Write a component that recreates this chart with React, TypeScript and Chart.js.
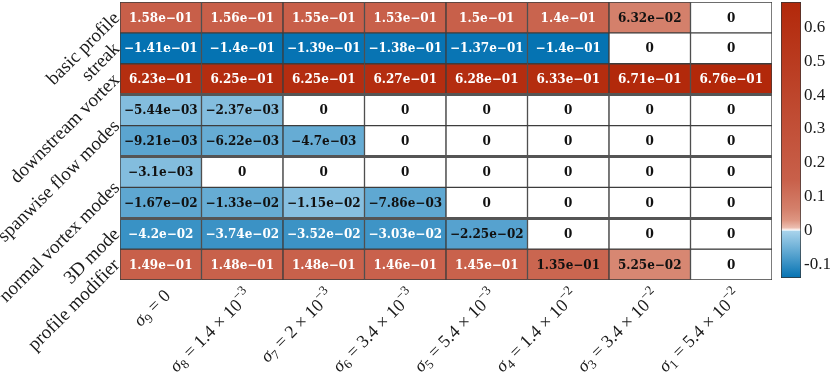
import React, { useEffect, useRef } from 'react';
import { Chart, registerables } from 'chart.js';

Chart.register(...registerables);

// ---------- data ----------
const rowLabels = ['basic profile', 'streak', 'downstream vortex', 'spanwise flow modes', 'normal vortex modes', '3D mode', 'profile modifier'];
const rowLabelPos = [0.5, 1.5, 2.5, 4, 6, 7.5, 8.5];
const groupBreaks = [3, 5, 7];

const colSub = ['9', '8', '7', '6', '5', '4', '3', '1'];
const colMant = ['0', '1.4', '2', '3.4', '5.4', '1.4', '3.4', '5.4'];
const colExp = ['', '−3', '−3', '−3', '−3', '−2', '−2', '−2'];

const values: number[][] = [
  [0.158, 0.156, 0.155, 0.153, 0.15, 0.14, 0.0632, 0],
  [-0.141, -0.14, -0.139, -0.138, -0.137, -0.14, 0, 0],
  [0.623, 0.625, 0.625, 0.627, 0.628, 0.633, 0.671, 0.676],
  [-0.00544, -0.00237, 0, 0, 0, 0, 0, 0],
  [-0.00921, -0.00622, -0.0047, 0, 0, 0, 0, 0],
  [-0.0031, 0, 0, 0, 0, 0, 0, 0],
  [-0.0167, -0.0133, -0.0115, -0.00786, 0, 0, 0, 0],
  [-0.042, -0.0374, -0.0352, -0.0303, -0.0225, 0, 0, 0],
  [0.149, 0.148, 0.148, 0.146, 0.145, 0.135, 0.0525, 0],
];

// colour-bar reading of each cell's shade
const tones: number[][] = [
  [0.158, 0.156, 0.155, 0.153, 0.15, 0.14, 0.0632, 0],
  [-0.141, -0.14, -0.139, -0.138, -0.137, -0.14, 0, 0],
  [0.623, 0.625, 0.625, 0.627, 0.628, 0.633, 0.671, 0.676],
  [-0.034, -0.034, 0, 0, 0, 0, 0, 0],
  [-0.068, -0.058, -0.058, 0, 0, 0, 0, 0],
  [-0.034, 0, 0, 0, 0, 0, 0, 0],
  [-0.065, -0.058, -0.031, -0.064, 0, 0, 0, 0],
  [-0.096, -0.095, -0.094, -0.092, -0.072, 0, 0, 0],
  [0.149, 0.148, 0.148, 0.146, 0.145, 0.135, 0.0525, 0],
];

const cbMin = -0.141;
const cbMax = 0.676;
const cbTicks = [-0.1, 0, 0.1, 0.2, 0.3, 0.4, 0.5, 0.6];

// ---------- styling helpers ----------
const cmap: [number, number[]][] = [
  [-0.141, [4, 114, 178]],
  [-0.001, [170, 212, 236]],
  [0, [255, 255, 255]],
  [0.008, [236, 190, 176]],
  [0.03, [222, 150, 130]],
  [0.063, [212, 128, 107]],
  [0.15, [200, 96, 74]],
  [0.676, [178, 40, 10]],
];

function rgb(c: number[]) {
  return `rgb(${Math.round(c[0])},${Math.round(c[1])},${Math.round(c[2])})`;
}

function toColor(v: number): string {
  if (v === 0) return '#ffffff';
  if (v <= cmap[0][0]) return rgb(cmap[0][1]);
  for (let i = 0; i < cmap.length - 1; i++) {
    const [a, ca] = cmap[i];
    const [b, cb] = cmap[i + 1];
    if (v >= a && v <= b) {
      const t = (v - a) / (b - a);
      return rgb([0, 1, 2].map((k) => ca[k] + (cb[k] - ca[k]) * t));
    }
  }
  return rgb(cmap[cmap.length - 1][1]);
}

function fmt(v: number): string {
  if (v === 0) return '0';
  const parts = v.toExponential(2).split('e');
  let m = parts[0].replace(/\.?0+$/, '');
  const en = parseInt(parts[1], 10);
  const es = (en < 0 ? '−' : '+') + String(Math.abs(en)).padStart(2, '0');
  if (m.startsWith('-')) m = '−' + m.slice(1);
  return m + 'e' + es;
}

const SERIF = '"Liberation Serif", "DejaVu Serif", serif';

export default function App() {
  const mainRef = useRef<HTMLCanvasElement>(null);
  const cbRef = useRef<HTMLCanvasElement>(null);

  useEffect(() => {
    document.body.style.margin = '0';

    const cellText = {
      id: 'cellText',
      afterDatasetsDraw(chart: any) {
        const ctx = chart.ctx;
        ctx.save();
        ctx.font = 'bold 12px "DejaVu Serif", serif';
        ctx.textAlign = 'center';
        ctx.textBaseline = 'middle';
        chart.data.datasets.forEach((_ds: any, r: number) => {
          const meta = chart.getDatasetMeta(r);
          meta.data.forEach((el: any, c: number) => {
            const p = el.getProps(['x', 'y', 'base'], true);
            const t = tones[r][c];
            ctx.fillStyle = t >= 0.138 || t <= -0.085 ? '#ffffff' : '#111111';
            ctx.fillText(fmt(values[r][c]), p.x, (p.y + p.base) / 2 + 1);
          });
        });
        ctx.restore();
      },
    };

    const xLabels = {
      id: 'xLabels',
      afterDraw(chart: any) {
        const ctx = chart.ctx;
        const xs = chart.scales.x;
        const baseY = chart.chartArea.bottom + 13;
        const big = `18px ${SERIF}`;
        const small = `13px ${SERIF}`;
        colSub.forEach((sub, i) => {
          const segs: { t: string; f: string; dy: number }[] = [
            { t: 'σ', f: `italic 18px ${SERIF}`, dy: 0 },
            { t: sub, f: small, dy: 4 },
            { t: ' = ', f: big, dy: 0 },
            { t: colMant[i], f: big, dy: 0 },
          ];
          if (colExp[i]) {
            segs.push({ t: ' × 10', f: big, dy: 0 });
            segs.push({ t: colExp[i], f: small, dy: -8 });
          }
          ctx.save();
          let W = 0;
          const ws = segs.map((s) => {
            ctx.font = s.f;
            const w = ctx.measureText(s.t).width;
            W += w;
            return w;
          });
          ctx.translate(xs.getPixelForValue(i) + 7, baseY);
          ctx.rotate(-Math.PI / 4);
          ctx.fillStyle = '#1a1a1a';
          ctx.textBaseline = 'alphabetic';
          ctx.textAlign = 'left';
          let x = -W;
          segs.forEach((s, k) => {
            ctx.font = s.f;
            ctx.fillText(s.t, x, 5 + s.dy);
            x += ws[k];
          });
          ctx.restore();
        });
      },
    };

    const main = new Chart(mainRef.current as HTMLCanvasElement, {
      type: 'bar',
      data: {
        labels: colSub.map((s) => 'σ' + s),
        datasets: values.map((row, r) => ({
          data: row.map(() => [r, r + 1]),
          backgroundColor: row.map((_v, c) => toColor(tones[r][c])),
          borderColor: '#3d3d3d',
          borderWidth: 1,
          borderSkipped: false,
          grouped: false,
          barPercentage: 1,
          categoryPercentage: 1,
        })),
      } as any,
      options: {
        responsive: false,
        animation: false,
        events: [],
        plugins: { legend: { display: false }, tooltip: { enabled: false } },
        layout: { padding: { left: 0, right: 58, top: 2, bottom: 97 } },
        scales: {
          x: { display: false, offset: true },
          y: {
            type: 'linear',
            min: 0,
            max: 9,
            reverse: true,
            position: 'left',
            z: 1,
            afterBuildTicks: (s: any) => {
              const v = [...rowLabelPos, ...groupBreaks].sort((a, b) => a - b);
              s.ticks = v.map((value) => ({ value }));
            },
            afterFit: (s: any) => {
              s.width = 120;
              s.paddingTop = 0;
              s.paddingBottom = 0;
            },
            ticks: {
              autoSkip: false,
              minRotation: 45,
              maxRotation: 45,
              padding: 3,
              labelOffset: -2,
              color: '#1a1a1a',
              font: { family: SERIF, size: 19 },
              callback: (v: any) => {
                const i = rowLabelPos.indexOf(Number(v));
                return i >= 0 ? rowLabels[i] : '';
              },
            },
            grid: {
              z: 1,
              drawTicks: false,
              color: '#555555',
              lineWidth: (c: any) => (c.tick && groupBreaks.includes(c.tick.value) ? 3 : 0),
            },
            border: { display: false },
          },
        },
      } as any,
      plugins: [cellText, xLabels],
    });

    const cb = new Chart(cbRef.current as HTMLCanvasElement, {
      type: 'bar',
      data: {
        labels: ['c'],
        datasets: [
          {
            data: [[cbMin, cbMax]],
            backgroundColor: (c: any) => {
              const chart = c.chart;
              const ys = chart.scales.y;
              if (!chart.chartArea || !ys) return '#ffffff';
              const y0 = ys.getPixelForValue(cbMin);
              const y1 = ys.getPixelForValue(cbMax);
              const g = chart.ctx.createLinearGradient(0, y0, 0, y1);
              cmap.forEach(([v, col]) => {
                if (v >= cbMin && v <= cbMax) g.addColorStop((v - cbMin) / (cbMax - cbMin), rgb(col));
              });
              return g;
            },
            borderColor: '#333333',
            borderWidth: 1,
            borderSkipped: false,
            barPercentage: 1,
            categoryPercentage: 1,
          },
        ],
      } as any,
      options: {
        responsive: false,
        animation: false,
        events: [],
        plugins: { legend: { display: false }, tooltip: { enabled: false } },
        layout: { padding: { left: 21, right: 0, top: 2, bottom: 99 } },
        scales: {
          x: { display: false },
          y: {
            position: 'right',
            min: cbMin,
            max: cbMax,
            afterBuildTicks: (s: any) => {
              s.ticks = cbTicks.map((value) => ({ value }));
            },
            afterFit: (s: any) => {
              s.width = 29;
              s.paddingTop = 0;
              s.paddingBottom = 0;
            },
            ticks: {
              padding: 3,
              color: '#1a1a1a',
              font: { family: SERIF, size: 17 },
              callback: (v: any) => (Number(v) === 0 ? '0' : String(Math.round(Number(v) * 10) / 10)),
            },
            grid: { display: false, drawTicks: false },
            border: { display: false },
          },
        },
      } as any,
    });

    return () => {
      main.destroy();
      cb.destroy();
    };
  }, []);

  return (
    <div style={{ position: 'relative', width: 830, height: 377 }}>
      <canvas ref={mainRef} width={830} height={377} style={{ position: 'absolute', left: 0, top: 0 }} />
      <canvas ref={cbRef} width={70} height={377} style={{ position: 'absolute', left: 760, top: 0 }} />
    </div>
  );
}
